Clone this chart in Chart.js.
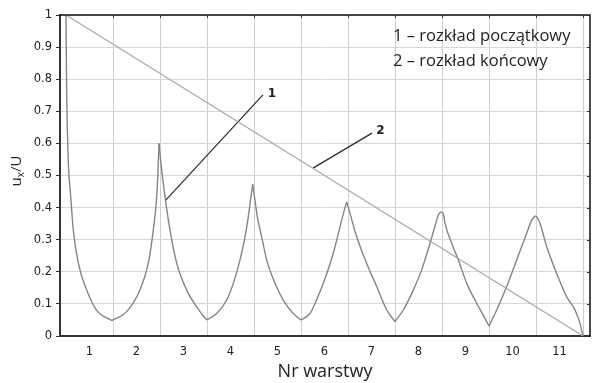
<!DOCTYPE html>
<html>
<head>
<meta charset="utf-8">
<title>Rozkład u_x/U</title>
<script src="https://cdn.jsdelivr.net/npm/chart.js@4/dist/chart.umd.min.js"></script>
<style>
  body { margin: 0; background: #fff; }
  #wykres { display: block; }
</style>
</head>
<body>
<canvas id="wykres" width="592" height="383"></canvas>
<script>
// Dane (x = numer warstwy liczony od 0 do 11)
const krzywa1X = [0, 0.005, 0.015, 0.028, 0.049, 0.1, 0.155, 0.262, 0.44, 0.653, 0.975,
  1.291, 1.574, 1.751, 1.857, 1.93, 1.964, 1.979,
  2.02, 2.106, 2.213, 2.355, 2.568, 2.851, 2.994,
  3.206, 3.419, 3.56, 3.702, 3.809, 3.879, 3.936, 3.972,
  4.01, 4.07, 4.164, 4.27, 4.447, 4.623, 4.836, 5.0,
  5.191, 5.33, 5.474, 5.687, 5.83, 5.936, 5.972,
  6.043, 6.185, 6.398, 6.611, 6.823, 7.0,
  7.177, 7.389, 7.568, 7.745, 7.887, 7.92, 7.972,
  8.03, 8.064, 8.206, 8.347, 8.526, 8.738, 8.915, 9.0,
  9.164, 9.376, 9.589, 9.802, 9.909, 9.979,
  10.01, 10.085, 10.228, 10.44, 10.653, 10.83, 10.936, 11.0];
const krzywa1Y = [1.0, 0.9, 0.75, 0.645, 0.54, 0.435, 0.33, 0.227, 0.143, 0.08, 0.048,
  0.076, 0.143, 0.227, 0.33, 0.434, 0.538, 0.6,
  0.538, 0.434, 0.33, 0.227, 0.143, 0.076, 0.05,
  0.07, 0.112, 0.164, 0.237, 0.309, 0.372, 0.434, 0.473,
  0.434, 0.372, 0.309, 0.237, 0.164, 0.112, 0.07, 0.05,
  0.07, 0.112, 0.164, 0.258, 0.34, 0.40, 0.418,
  0.382, 0.309, 0.226, 0.154, 0.081, 0.045,
  0.081, 0.143, 0.206, 0.289, 0.361, 0.377, 0.387,
  0.379, 0.351, 0.289, 0.237, 0.164, 0.102, 0.055, 0.031,
  0.081, 0.154, 0.237, 0.32, 0.361, 0.374,
  0.372, 0.351, 0.278, 0.195, 0.122, 0.081, 0.04, 0.0];

const krzywa2X = [0, 11];
const krzywa2Y = [1, 0];

// odnośniki "1" i "2"
const odnosnik1X = [2.128, 4.19];
const odnosnik1Y = [0.424, 0.751];
const odnosnik2X = [5.255, 6.51];
const odnosnik2Y = [0.523, 0.632];
const etykietyOdnosnikow = ['1', '2'];
const etykietyOdnosnikowX = [4.38, 6.69];
const etykietyOdnosnikowY = [0.754, 0.638];

const xTickWartosci = [1, 2, 3, 4, 5, 6, 7, 8, 9, 10, 11];
const xTickEtykiety = ['1', '2', '3', '4', '5', '6', '7', '8', '9', '10', '11'];
const yTickEtykiety = ['0', '0.1', '0.2', '0.3', '0.4', '0.5', '0.6', '0.7', '0.8', '0.9', '1'];

const tytulX = 'Nr warstwy';
const legenda = ['1 – rozkład początkowy', '2 – rozkład końcowy'];

function punkty(xs, ys) {
    return xs.map((x, i) => ({ x: x, y: ys[i] }));
}

// Dzieli krzywą na odcinki monotoniczne, żeby ostrza na ekstremach zostały ostre
function odcinki(xs, ys) {
    const wynik = [];
    let poczatek = 0;
    for (let i = 1; i < ys.length - 1; i++) {
        const d1 = ys[i] - ys[i - 1];
        const d2 = ys[i + 1] - ys[i];
        if (d1 * d2 < 0) {
            wynik.push(punkty(xs.slice(poczatek, i + 1), ys.slice(poczatek, i + 1)));
            poczatek = i;
        }
    }
    wynik.push(punkty(xs.slice(poczatek), ys.slice(poczatek)));
    return wynik;
}

// Plugin do ramki, tytułu osi Y, legendy i numerów odnośników
const dekorasi = {
    id: 'dekorasi',
    afterDraw(chart) {
        const ctx = chart.ctx;
        const a = chart.chartArea;
        const sx = chart.scales.x;
        const sy = chart.scales.y;
        ctx.save();

        // górna i prawa krawędź ramki
        ctx.strokeStyle = '#111';
        ctx.lineWidth = 1.5;
        ctx.beginPath();
        ctx.moveTo(a.left, a.top);
        ctx.lineTo(a.right, a.top);
        ctx.lineTo(a.right, a.bottom);
        ctx.stroke();

        // małe kreski na górnej i prawej krawędzi
        ctx.lineWidth = 1;
        ctx.strokeStyle = '#333';
        ctx.beginPath();
        xTickWartosci.forEach(v => {
            const px = Math.round(sx.getPixelForValue(v)) + 0.5;
            ctx.moveTo(px, a.top);
            ctx.lineTo(px, a.top + 3);
        });
        yTickEtykiety.forEach((t, i) => {
            const py = Math.round(sy.getPixelForValue(i / 10)) + 0.5;
            ctx.moveTo(a.right, py);
            ctx.lineTo(a.right - 3, py);
        });
        ctx.stroke();

        // tytuł osi Y: u_x/U
        ctx.fillStyle = '#222';
        ctx.translate(17, 171);
        ctx.rotate(-Math.PI / 2);
        ctx.textBaseline = 'middle';
        ctx.font = '15px "Open Sans"';
        const wU = ctx.measureText('u').width;
        ctx.font = '10px "Open Sans"';
        const wx = ctx.measureText('x').width;
        ctx.font = '15px "Open Sans"';
        const wReszta = ctx.measureText('/U').width;
        let start = -(wU + wx + wReszta) / 2;
        ctx.textAlign = 'left';
        ctx.fillText('u', start, 0);
        ctx.font = '10px "Open Sans"';
        ctx.fillText('x', start + wU, 4);
        ctx.font = '15px "Open Sans"';
        ctx.fillText('/U', start + wU + wx, 0);
        ctx.setTransform(1, 0, 0, 1, 0, 0);

        // legenda tekstowa
        ctx.font = '16.5px "Open Sans"';
        ctx.fillStyle = '#222';
        ctx.textAlign = 'left';
        ctx.textBaseline = 'middle';
        ctx.fillText(legenda[0], 393, 36);
        ctx.fillText(legenda[1], 393, 61);

        // numery odnośników
        ctx.font = 'bold 12px "DejaVu Sans"';
        ctx.textAlign = 'center';
        etykietyOdnosnikow.forEach((t, i) => {
            ctx.fillText(t, sx.getPixelForValue(etykietyOdnosnikowX[i]), sy.getPixelForValue(etykietyOdnosnikowY[i]));
        });
        ctx.restore();
    }
};

const zestawy = [{
    label: '2',
    data: punkty(krzywa2X, krzywa2Y),
    borderColor: '#a8a8a8',
    borderWidth: 1.2,
}];
odcinki(krzywa1X, krzywa1Y).forEach((d, i) => {
    zestawy.push({
        label: '1.' + i,
        data: d,
        borderColor: '#858585',
        borderWidth: 1.4,
        cubicInterpolationMode: 'monotone',
    });
});
zestawy.push({
    label: 'odn1',
    data: punkty(odnosnik1X, odnosnik1Y),
    borderColor: '#2a2a2a',
    borderWidth: 1.2,
}, {
    label: 'odn2',
    data: punkty(odnosnik2X, odnosnik2Y),
    borderColor: '#2a2a2a',
    borderWidth: 1.2,
});

const ctx = document.getElementById('wykres').getContext('2d');
const chart = new Chart(ctx, {
    type: 'line',
    data: { datasets: zestawy },
    options: {
        responsive: false,
        animation: false,
        devicePixelRatio: 1,
        layout: { padding: { top: 15, right: 2, left: 0, bottom: 0 } },
        elements: {
            point: { radius: 0 },
            line: { tension: 0, fill: false },
        },
        plugins: {
            legend: { display: false },
            tooltip: { enabled: false },
        },
        scales: {
            x: {
                type: 'linear',
                min: -6 / 47,
                max: -6 / 47 + 530 / 47,
                afterBuildTicks: (scale) => {
                    scale.ticks = xTickWartosci.map(v => ({ value: v }));
                },
                afterFit: (scale) => {
                    scale.height = 47;
                    scale.paddingLeft = 0;
                    scale.paddingRight = 0;
                },
                ticks: {
                    autoSkip: false,
                    maxRotation: 0,
                    labelOffset: -23.5,
                    padding: 9,
                    color: '#222',
                    font: { family: 'DejaVu Sans', size: 11.5 },
                    callback: (value, index) => xTickEtykiety[index],
                },
                grid: {
                    color: '#cfcfcf',
                    lineWidth: 1,
                    drawTicks: false,
                },
                border: { color: '#333', width: 2 },
                title: {
                    display: true,
                    text: tytulX,
                    color: '#222',
                    font: { family: 'Open Sans', size: 18 },
                    padding: { top: 0, bottom: 0 },
                },
            },
            y: {
                min: 0,
                max: 1,
                afterBuildTicks: (scale) => {
                    scale.ticks = yTickEtykiety.map((t, i) => ({ value: i / 10 }));
                },
                afterFit: (scale) => { scale.width = 60; },
                ticks: {
                    padding: 4,
                    color: '#222',
                    font: { family: 'DejaVu Sans', size: 11.5 },
                    callback: (value, index) => yTickEtykiety[index],
                },
                grid: {
                    color: '#d8d8d8',
                    lineWidth: 1,
                    tickLength: 4,
                    tickColor: '#333',
                },
                border: { color: '#333', width: 2 },
            },
        },
    },
    plugins: [dekorasi],
});
</script>
</body>
</html>
